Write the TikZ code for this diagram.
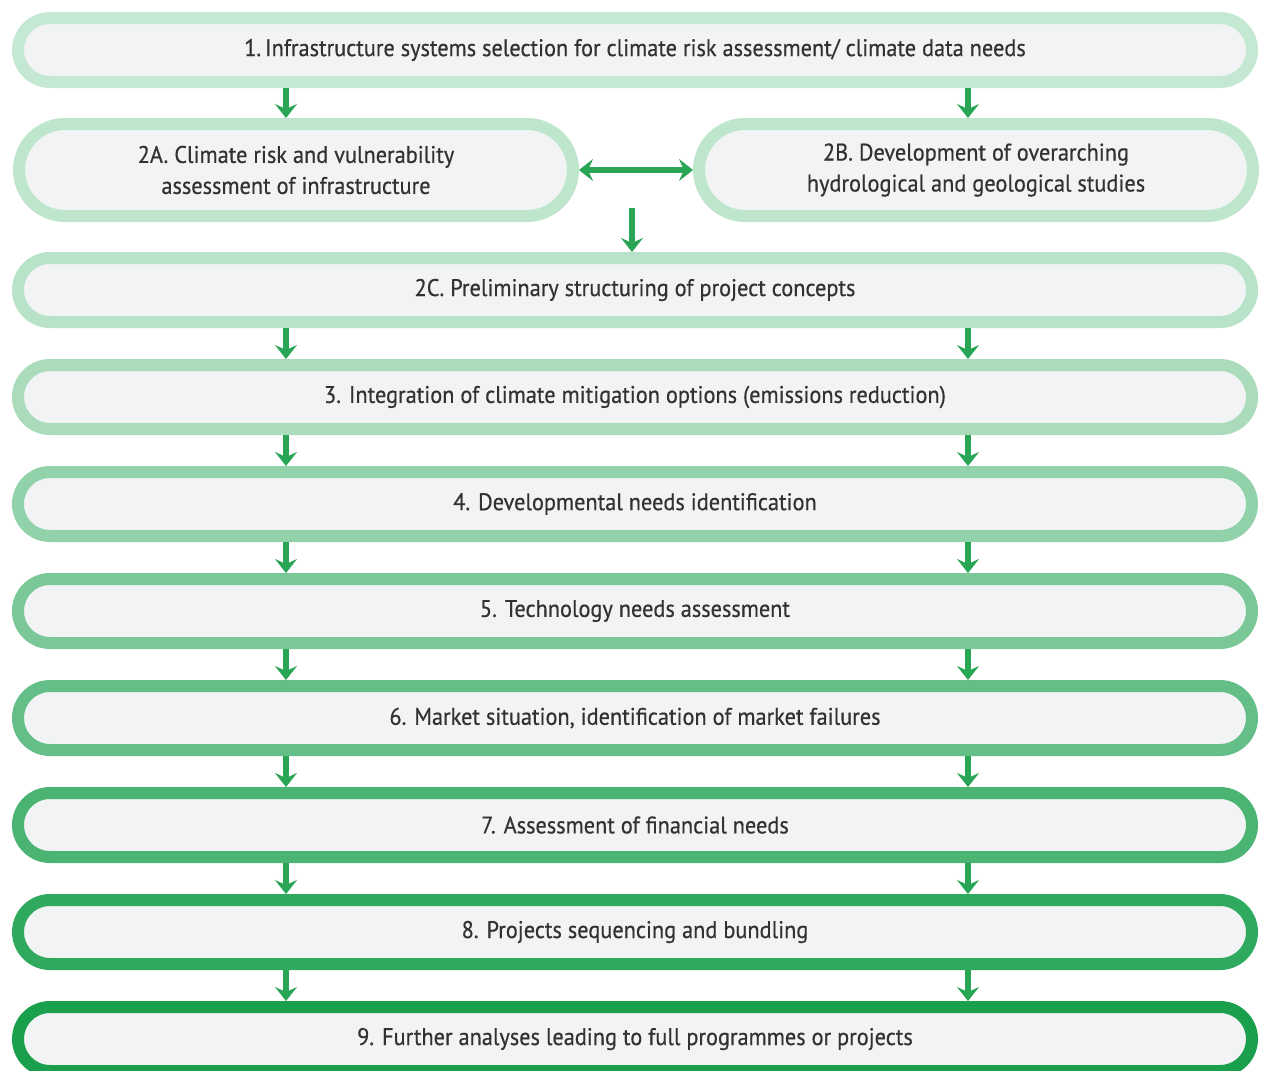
\documentclass[tikz,border=0pt]{standalone}
\usepackage{fontspec}
\setmainfont{PT Sans}[FakeStretch=0.93, FakeBold=0.5]
\usetikzlibrary{arrows.meta,shapes.misc}
\definecolor{textgrey}{RGB}{50,50,50}
\definecolor{boxfill}{RGB}{242,243,245}
\definecolor{arrowgreen}{RGB}{40,165,85}
\definecolor{ringa}{RGB}{196,232,210}
\definecolor{ringb}{RGB}{190,230,205}
\definecolor{ringc}{RGB}{184,227,200}
\definecolor{ringd}{RGB}{170,220,188}
\definecolor{ringe}{RGB}{146,210,170}
\definecolor{ringf}{RGB}{122,200,152}
\definecolor{ringg}{RGB}{100,190,135}
\definecolor{ringh}{RGB}{75,180,115}
\definecolor{ringi}{RGB}{46,169,94}
\definecolor{ringj}{RGB}{26,160,76}
\tikzstyle{stage} = [rounded rectangle, draw, line width=6pt, fill=boxfill, text=textgrey, align=center, inner sep=2pt, minimum height=32pt, minimum width=621pt]
\tikzstyle{halfstage} = [stage, minimum height=46pt, minimum width=281pt]
\tikzstyle{flow} = [draw=arrowgreen, line width=2.8pt, -{Stealth[length=7pt,width=11pt,inset=2.5pt,fill=arrowgreen]}]
\tikzstyle{twoway} = [flow, {Stealth[length=7pt,width=11pt,inset=2.5pt,fill=arrowgreen]}-{Stealth[length=7pt,width=11pt,inset=2.5pt,fill=arrowgreen]}]
\tikzset{font={\fontsize{12}{15.5}\selectfont}}

\begin{document}
\begin{tikzpicture}[x=0.5pt, y=-0.5pt]
  \useasboundingbox (0,0) rectangle (1264,1071);
  \coordinate (colL) at (286,0);
  \coordinate (colR) at (968,0);
  \coordinate (split) at (632,208);

  \node[stage, draw=ringa] (s1) at (635,50) {1.\,Infrastructure systems selection for climate risk assessment/ climate data needs};
  \node[halfstage, draw=ringb] (s2a) at (296,170) {2A. Climate risk and vulnerability\\assessment of infrastructure};
  \node[halfstage, draw=ringb] (s2b) at (976,170) {2B. Development of overarching\\hydrological and geological studies};
  \node[stage, draw=ringc] (s2c) at (635,290) {2C. Preliminary structuring of project concepts};
  \node[stage, draw=ringd] (s3) at (635,397) {3. Integration of climate mitigation options (emissions reduction)};
  \node[stage, draw=ringe] (s4) at (635,504) {4. Developmental needs identification};
  \node[stage, draw=ringf] (s5) at (635,611) {5. Technology needs assessment};
  \node[stage, draw=ringg] (s6) at (635,718) {6. Market situation, identification of market failures};
  \node[stage, draw=ringh] (s7) at (635,825) {7. Assessment of financial needs};
  \node[stage, draw=ringi] (s8) at (635,932) {8. Projects sequencing and bundling};
  \node[stage, draw=ringj] (s9) at (635,1039) {9. Further analyses leading to full programmes or projects};

  \draw[flow] (s1.south -| colL) -- (s2a.north -| colL);
  \draw[flow] (s1.south -| colR) -- (s2b.north -| colR);
  \draw[twoway] (s2a.east) -- (s2b.west);
  \draw[flow] (split) -- (s2c.north -| split);

  \draw[flow] (s2c.south -| colL) -- (s3.north -| colL);
  \draw[flow] (s2c.south -| colR) -- (s3.north -| colR);
  \draw[flow] (s3.south -| colL) -- (s4.north -| colL);
  \draw[flow] (s3.south -| colR) -- (s4.north -| colR);
  \draw[flow] (s4.south -| colL) -- (s5.north -| colL);
  \draw[flow] (s4.south -| colR) -- (s5.north -| colR);
  \draw[flow] (s5.south -| colL) -- (s6.north -| colL);
  \draw[flow] (s5.south -| colR) -- (s6.north -| colR);
  \draw[flow] (s6.south -| colL) -- (s7.north -| colL);
  \draw[flow] (s6.south -| colR) -- (s7.north -| colR);
  \draw[flow] (s7.south -| colL) -- (s8.north -| colL);
  \draw[flow] (s7.south -| colR) -- (s8.north -| colR);
  \draw[flow] (s8.south -| colL) -- (s9.north -| colL);
  \draw[flow] (s8.south -| colR) -- (s9.north -| colR);

\end{tikzpicture}
\end{document}
